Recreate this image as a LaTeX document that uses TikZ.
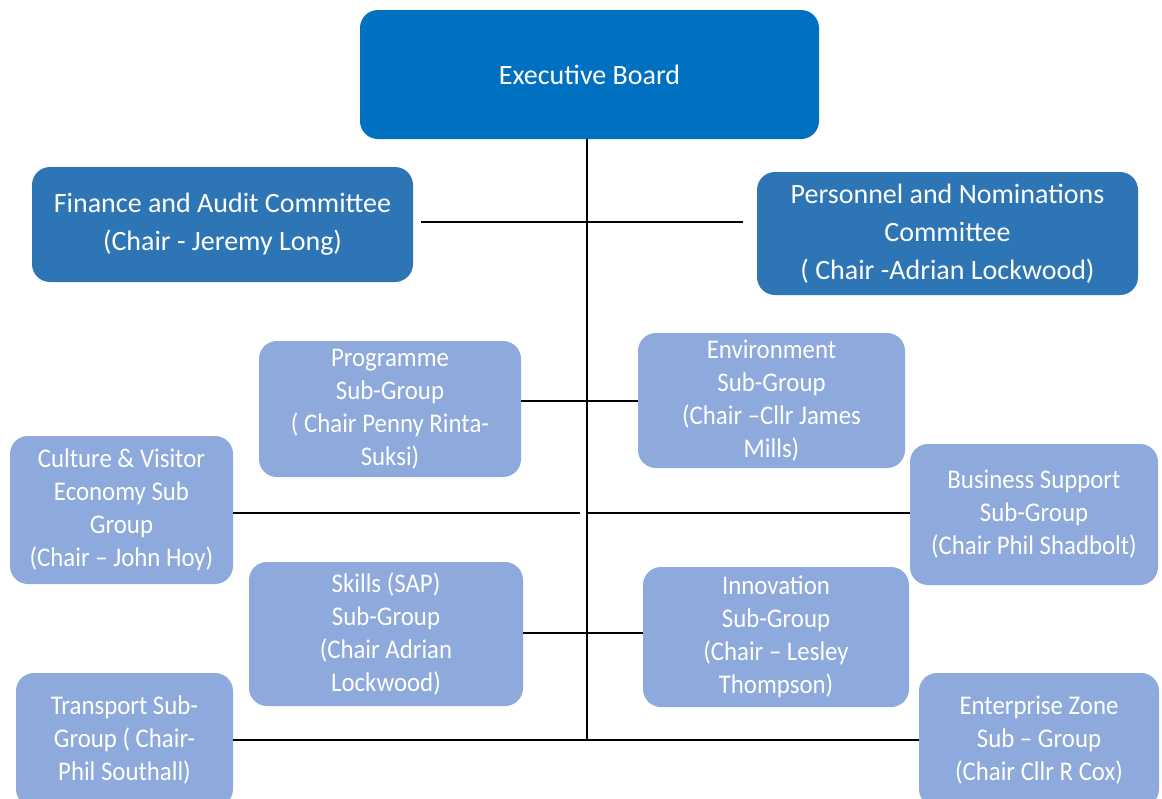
\documentclass[tikz,border=0pt]{standalone}
\usepackage{fontspec}
\setmainfont{Carlito}
\newfontfamily\subf[FakeStretch=0.92,Ligatures=TeX]{Carlito}
\definecolor{execblue}{RGB}{0,112,192}
\definecolor{midblue}{RGB}{46,117,182}
\definecolor{lightblue}{RGB}{142,169,219}
\tikzset{
  box/.style={rounded corners=18pt, inner sep=0pt, align=center, text=white},
  topbox/.style={box, fill=midblue, font=\fontsize{28}{38}\selectfont},
  execbox/.style={box, fill=execblue, font=\fontsize{28}{38}\selectfont},
  subbox/.style={box, fill=lightblue, font=\subf\fontsize{27}{33}\selectfont},
  conn/.style={draw=black, line width=2.2pt},
  trunkline/.style={draw=black, line width=1.8pt},
}
\begin{document}
\begin{tikzpicture}[x=1pt,y=-1pt]
\useasboundingbox (0,0) rectangle (1162,798);
\clip (0,0) rectangle (1162,798);
\node[execbox, minimum width=459pt, minimum height=129pt] (exec) at (589.5,74.5) {Executive Board};
\node[topbox, minimum width=381pt, minimum height=115pt] (fin) at (222.5,224.5) {Finance and Audit Committee\\(Chair - Jeremy Long)};
\node[topbox, minimum width=381pt, minimum height=123pt] (pers) at (947.5,233.5) {Personnel and Nominations\\Committee\\( Chair -Adrian Lockwood)};
\node[subbox, minimum width=262pt, minimum height=136pt] (prog) at (390,409) {Programme\\Sub-Group\\( Chair Penny Rinta-\\Suksi)};
\node[subbox, minimum width=267pt, minimum height=135pt] (env) at (771.5,400.5) {Environment\\Sub-Group\\(Chair –Cllr James\\Mills)};
\node[subbox, minimum width=223pt, minimum height=148pt] (cult) at (121.5,510) {Culture \& Visitor\\Economy Sub\\Group\\(Chair – John Hoy)};
\node[subbox, minimum width=248pt, minimum height=141pt] (bus) at (1034,514.5) {Business Support\\Sub-Group\\(Chair Phil Shadbolt)};
\node[subbox, minimum width=274pt, minimum height=144pt] (skill) at (386,634) {Skills (SAP)\\Sub-Group\\(Chair Adrian\\Lockwood)};
\node[subbox, minimum width=266pt, minimum height=140pt] (innov) at (776,637) {Innovation\\Sub-Group\\(Chair – Lesley\\Thompson)};
\node[subbox, minimum width=217pt, minimum height=134pt] (trans) at (124.5,740) {Transport Sub-\\Group ( Chair-\\Phil Southall)};
\node[subbox, minimum width=240pt, minimum height=134pt] (ent) at (1039,740) {Enterprise Zone\\Sub – Group\\(Chair Cllr R Cox)};
\coordinate (tb) at (587,740);
\coordinate (j1) at (587,222);
\coordinate (j2) at (587,401);
\coordinate (j3) at (587,513);
\coordinate (j4) at (587,633);
\draw[trunkline] (exec.south -| tb) -- (tb);
\draw[conn, shorten <=8pt, shorten >=14pt] (fin.east |- j1) -- (pers.west |- j1);
\draw[conn] (prog.east |- j2) -- (env.west |- j2);
\draw[conn] (cult.east |- j3) -- ([xshift=-7pt]j3);
\draw[conn] (j3) -- (bus.west |- j3);
\draw[conn] (skill.east |- j4) -- (innov.west |- j4);
\draw[conn] (trans.east |- tb) -- (ent.west |- tb);
\end{tikzpicture}
\end{document}
